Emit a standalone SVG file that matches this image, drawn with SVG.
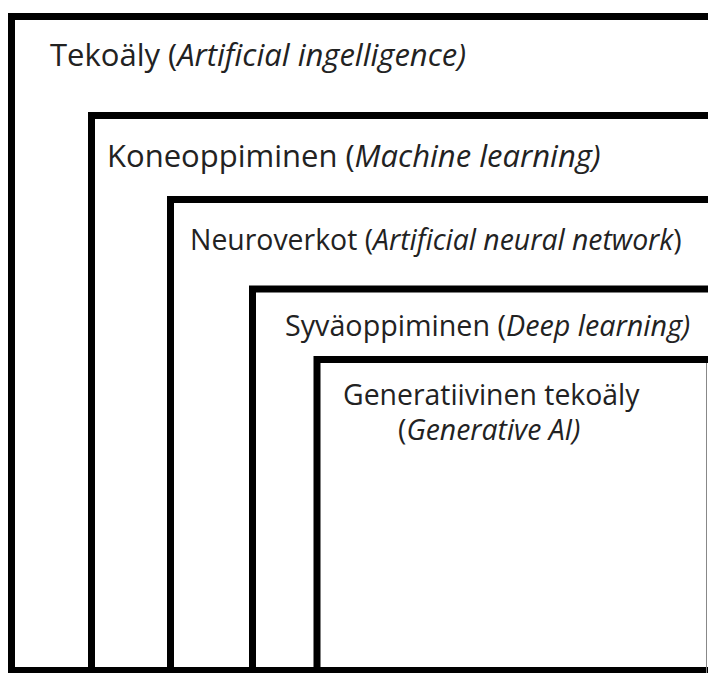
<svg xmlns="http://www.w3.org/2000/svg" width="708" height="673" viewBox="0 0 708 673">
  <style>
    .frame { fill: #ffffff; stroke: #000000; stroke-width: 7; }
    .label { font-family: "Open Sans", "Noto Sans", "DejaVu Sans", sans-serif; fill: #222222; }
    .en { font-style: italic; }
  </style>
  <rect x="0" y="0" width="708" height="673" fill="#ffffff"/>

  <!-- Nested frames, each running off the right edge of the canvas -->
  <g id="ai">
    <rect class="frame" x="11.5" y="16.5" width="760" height="654"/>
    <text class="label" x="50" y="66" font-size="31">Tekoäly (<tspan class="en">Artificial ingelligence)</tspan></text>
  </g>
  <g id="ml">
    <rect class="frame" x="91.5" y="115.5" width="680" height="555"/>
    <text class="label" x="107" y="167" font-size="31">Koneoppiminen (<tspan class="en">Machine learning)</tspan></text>
  </g>
  <g id="nn">
    <rect class="frame" x="170.5" y="199.5" width="600" height="471"/>
    <text class="label" x="190" y="250" font-size="28.4">Neuroverkot (<tspan class="en">Artificial neural network</tspan>)</text>
  </g>
  <g id="dl">
    <rect class="frame" x="252.5" y="289" width="520" height="381.5"/>
    <text class="label" x="285" y="336" font-size="28.7">Syväoppiminen (<tspan class="en">Deep learning)</tspan></text>
  </g>
  <g id="genai">
    <rect class="frame" x="317" y="359.5" width="460" height="311"/>
    <line x1="706.5" y1="363" x2="706.5" y2="673" stroke="#888888" stroke-width="1"/>
    <text class="label" x="343" y="405" font-size="28.4">Generatiivinen tekoäly</text>
    <text class="label" x="398" y="440" font-size="28.4">(<tspan class="en">Generative AI)</tspan></text>
  </g>
  <g id="connectors"/>
</svg>
